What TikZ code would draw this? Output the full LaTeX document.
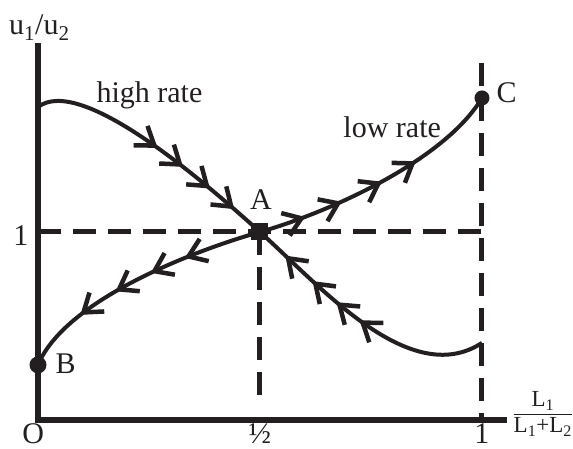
\documentclass[tikz,border=0pt]{standalone}
\usepackage{fontspec}
\setmainfont{Liberation Serif}
\usetikzlibrary{arrows.meta,decorations.markings}
\definecolor{inkgray}{RGB}{35,31,32}

\begin{document}
\begin{tikzpicture}[x=4.44pt, y=1.88pt, inkgray,
  font=\fontsize{30}{34}\selectfont,
  axisline/.style={line width=5.5pt, line join=miter},
  guide/.style={line width=5pt, dash pattern=on 23pt off 12pt},
  flow/.style={line width=4pt},
  chev/.tip={Straight Barb[length=17pt, width=24pt, line width=4.5pt]},
  fwd/.style={postaction={decorate, decoration={markings, mark=at position #1 with {\arrow{chev}}}}},
  bwd/.style={postaction={decorate, decoration={markings, mark=at position #1 with {\arrowreversed{chev}}}}}]
  \useasboundingbox (-8.56,-15.4) rectangle (120.5,223.4);

  % points of the phase plane
  \coordinate (O) at (0,0);
  \coordinate (A) at (50,100);
  \coordinate (B) at (0,29.3);
  \coordinate (C) at (100,171.3);
  \coordinate (S) at (0,166.5);
  \coordinate (E) at (100,41);

  % dashed guides
  \draw[guide] (0,100) -- (100,100);
  \draw[guide] (A) -- (50,8);
  \draw[guide] (100,190) -- (100,0);

  % axes
  \draw[axisline] (0,200.5) -- (O) -- (105.6,0);

  % high rate
  \draw[flow, fwd/.list={0.5,0.62,0.75,0.87}] (S) .. controls (9.46,183.5) and (36.5,128.7) .. (A);
  \draw[flow, bwd/.list={0.13,0.27,0.39,0.5}] (A) .. controls (63.5,71.3) and (83.8,16) .. (E);
  % low rate
  \draw[flow, bwd/.list={0.25,0.41,0.56,0.7}] (B) .. controls (6.1,63.8) and (34.9,89.9) .. (A);
  \draw[flow, fwd/.list={0.18,0.33,0.5,0.65}] (A) .. controls (65.8,110.6) and (91.7,138.3) .. (C);

  \fill (B) circle (8.5pt);
  \fill (C) circle (7.5pt);
  \fill (A) ++(-8.5pt,-8.5pt) rectangle ++(17pt,17pt);

  \node[anchor=base] (ylab) at (0.3,204.8) {u\textsubscript{1}/u\textsubscript{2}};
  \node[anchor=base west] (hilab) at (12.4,169.1) {high rate};
  \node[anchor=base west] (lolab) at (68,150) {low rate};
  \node[anchor=base] (Alab) at (50.2,111.7) {A};
  \node[anchor=base west] (Blab) at (3.15,24.5) {B};
  \node[anchor=base west] (Clab) at (102.5,169) {C};
  \node[anchor=base east] (yone) at (-1.35,93) {1};
  \node[anchor=base] (Olab) at (-1.1,-12.6) {O};
  \node[anchor=base] (xhalf) at (50,-12.6) {½};
  \node[anchor=base] (xone) at (100,-12.6) {1};
  \node[inner sep=0pt] (xlab) at (113.7,2.66) {\fontsize{23}{25}\selectfont\setlength\arrayrulewidth{1pt}%
    \begin{tabular}{@{}c@{}}L\textsubscript{1}\\\hline L\textsubscript{1}+L\textsubscript{2}\end{tabular}};
\end{tikzpicture}
\end{document}
